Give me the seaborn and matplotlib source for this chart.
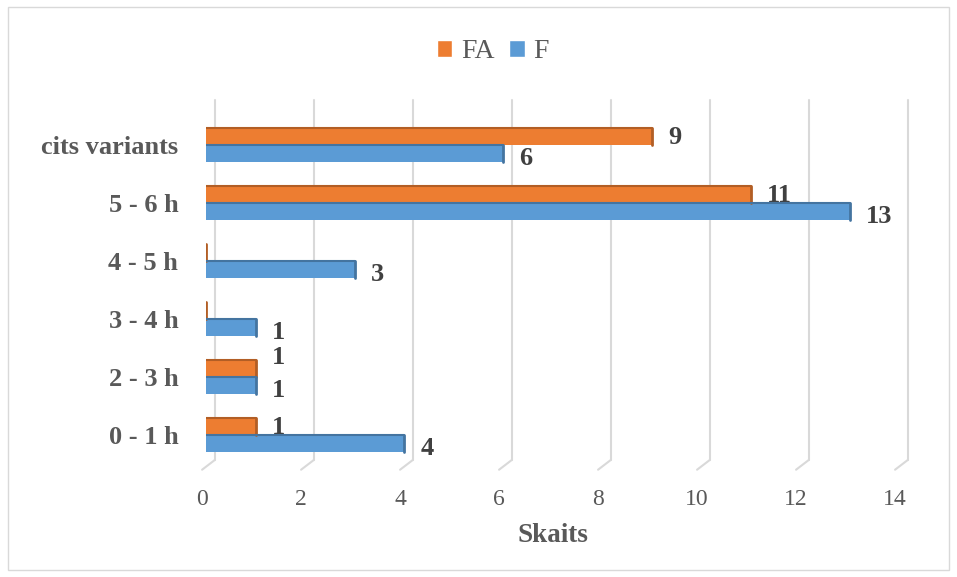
import pandas as pd
import numpy as np
import matplotlib.pyplot as plt
import matplotlib.transforms as mtransforms
import seaborn as sns
from matplotlib.patches import Rectangle, Patch

# ── data ────────────────────────────────────────────
categories = ['cits variants', '5 - 6 h', '4 - 5 h', '3 - 4 h', '2 - 3 h', '0 - 1 h']
fa_values = [9, 11, 0, 0, 1, 1]
f_values = [6, 13, 3, 1, 1, 4]
series = ['FA', 'F']
colors = {'FA': '#ED7D31', 'F': '#5B9BD5'}

df = pd.DataFrame({
    'cat': categories * 2,
    'series': ['FA'] * len(categories) + ['F'] * len(categories),
    'value': fa_values + f_values,
})

# ── plot ────────────────────────────────────────────
sns.set_style('white')
plt.rcParams['font.family'] = ['Liberation Serif', 'DejaVu Serif']

fig = plt.figure(figsize=(9.57, 5.77), dpi=100)
ax = fig.add_axes([0.2153, 0.203, 0.7241, 0.624])

sns.barplot(data=df, x='value', y='cat', hue='series', order=categories,
            hue_order=series, palette=colors, width=0.6, orient='h',
            saturation=1, ax=ax, legend=False, zorder=3, linewidth=0)

ax.set_xlim(0, 14)
ax.set_ylim(5.43, -0.78)
ax.set_xticks(range(0, 15, 2))

# grid with slanted "3D" feet
for x in range(0, 15, 2):
    ax.plot([x + 0.18, x + 0.18], [-0.78, 5.43], color='#d9d9d9', lw=1.5,
            clip_on=False, zorder=0)
    ax.plot([x + 0.18, x - 0.08], [5.43, 5.6], color='#d9d9d9', lw=1.5,
            clip_on=False, zorder=0)

for s in ax.spines.values():
    s.set_visible(False)

# darker top / end faces on bars
for p in ax.patches:
    fc = np.array(p.get_facecolor()[:3]) * 0.75
    x0, w = p.get_x(), p.get_width()
    if w > 0:
        ax.plot([x0, x0 + w], [p.get_y(), p.get_y()], color=fc, lw=1.5, zorder=4)
    ax.plot([x0 + w] * 2, [p.get_y(), p.get_y() + p.get_height()],
            color=fc, lw=2, zorder=4)

# value labels (FA label nudged up when it would collide with the F label)
for cont, lab in zip(ax.containers, series):
    for i, (bar, v) in enumerate(zip(cont, cont.datavalues)):
        if v == 0:
            continue
        yc = bar.get_y() + bar.get_height() / 2
        if lab == 'F':
            dy = 0.08
        elif abs(fa_values[i] - f_values[i]) < 1:
            dy = -0.18
        else:
            dy = 0.02
        ax.text(v + 0.33, yc + dy, f'{int(v)}',
                va='center', ha='left', fontsize=19, fontweight='bold',
                color='#404040')

ax.tick_params(axis='x', length=0, labelsize=17, labelcolor='#595959', pad=21)
ax.tick_params(axis='y', length=0, labelsize=19, labelcolor='#595959', pad=20)
shift = mtransforms.ScaledTranslation(-4 / 100, 0, fig.dpi_scale_trans)
for t in ax.get_xticklabels():
    t.set_transform(t.get_transform() + shift)
for t in ax.get_yticklabels():
    t.set_fontweight('bold')
ax.set_ylabel('')
ax.set_xlabel('Skaits', fontsize=19.5, fontweight='bold', color='#595959', labelpad=9)

handles = [Patch(facecolor=colors[s], label=s) for s in series]
fig.legend(handles=handles, loc='upper center', bbox_to_anchor=(0.515, 0.975),
           ncol=2, frameon=False, fontsize=20, handlelength=0.55,
           handleheight=0.55, handletextpad=0.3, columnspacing=0.55,
           labelcolor='#595959')

fig.patches.append(Rectangle((0.008, 0.012), 0.984, 0.976, transform=fig.transFigure,
                             fill=False, edgecolor='#d9d9d9', lw=1))

plt.savefig('out.png', dpi=100)
